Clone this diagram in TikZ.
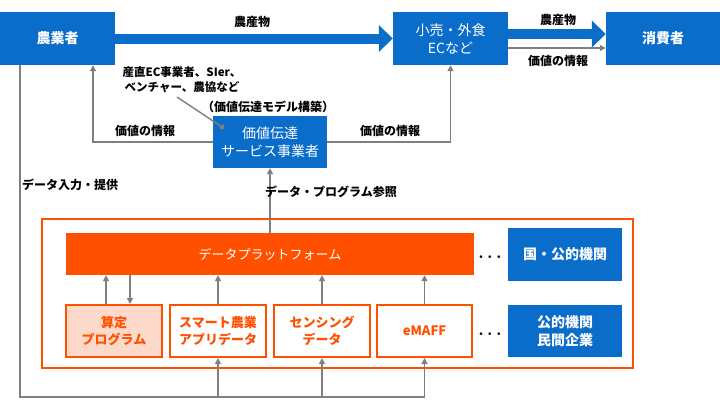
\documentclass[tikz,border=0pt]{standalone}
\usepackage{fontspec}
\setmainfont{Noto Sans CJK JP}
\usetikzlibrary{arrows.meta}

\definecolor{mblue}{HTML}{0A6DCA}
\definecolor{morange}{HTML}{FF5000}
\definecolor{msalmon}{HTML}{FCD9CA}
\definecolor{mgray}{HTML}{7F7F7F}

\tikzset{
  bluebox/.style={fill=mblue, text=white, minimum width=115pt, minimum height=53pt,
    align=center, inner sep=0pt, font=\fontsize{14}{18}\selectfont\bfseries},
  orangebox/.style={draw=morange, line width=2pt, fill=white, text=morange,
    minimum width=96pt, minimum height=52pt, align=center, inner sep=0pt,
    font=\fontsize{13}{17}\selectfont\bfseries},
  fatarrow/.style={draw=mblue, line width=10pt, -{Triangle[length=14pt,width=26pt]}},
  info/.style={draw=mgray, line width=1.5pt, -{Triangle[length=6pt,width=6pt]}},
  infoline/.style={draw=mgray, line width=1.5pt},
  lbl/.style={font=\fontsize{12}{15}\selectfont\bfseries, inner sep=1pt, align=center},
  dotsnode/.style={font=\fontsize{17}{18}\selectfont\boldmath, inner sep=0pt},
}

\begin{document}
\begin{tikzpicture}[x=1pt,y=-1pt]
\useasboundingbox (0,0) rectangle (720,400);
% top row
\node[bluebox] (farmer) at (57.5,38.5) {農業者};
\node[bluebox] (retail) at (450.5,38.5) {\mdseries 小売・外食\\\mdseries ECなど};
\node[bluebox, minimum width=114pt] (consumer) at (663,38.5) {消費者};
\node[bluebox, minimum width=114pt, minimum height=52pt] (service) at (270,142)
  {\mdseries 価値伝達\\\mdseries サービス事業者};
% orange frame
\draw[morange, line width=2pt] (42,219) rectangle (633,368);
\node[fill=morange, text=white, minimum width=408pt, minimum height=42pt,
  font=\fontsize{13}{16}\selectfont] (platform) at (270,254) {データプラットフォーム};
\node[bluebox, minimum width=114pt] (gov) at (565,254.5) {国・公的機関};
\node[bluebox, minimum width=114pt, minimum height=52pt] (public) at (565,331)
  {公的機関\\民間企業};
\node[orangebox, fill=msalmon] (calc) at (114,331) {算定\\プログラム};
\node[orangebox] (smart) at (218,331) {スマート農業\\アプリデータ};
\node[orangebox] (sensing) at (322,331) {センシング\\データ};
\node[orangebox, minimum width=95pt] (emaff) at (424.5,331) {eMAFF};
\node[dotsnode] (dots1) at (490,257) {$\cdots$};
\node[dotsnode] (dots2) at (490,334) {$\cdots$};

% goods flow
\draw[fatarrow] (farmer.east) -- (retail.west);
\draw[fatarrow] ([yshift=4.5pt]retail.east) -- ([yshift=4.5pt]consumer.west);
\draw[info] ([yshift=-9.5pt]retail.east) -- ([yshift=-9.5pt]consumer.west);
\node[lbl] (goods1) at (252,22) {農産物};
\node[lbl] (goods2) at (558,20) {農産物};
\node[lbl] (value1) at (558,61) {価値の情報};

% value info back to farmer and retail
\coordinate (fu) at ([xshift=35.5pt]farmer.south);
\draw[info] (service.west) -| (fu);
\draw[info] (service.east) -| (retail.south);
\node[lbl] (value2) at (145,131) {価値の情報};
\node[lbl] (value3) at (390,131) {価値の情報};
\node[lbl] (model) at (268,107) {（価値伝達モデル構築）};
\node[lbl, font=\fontsize{11.5}{15}\selectfont\bfseries] (note) at (182,80)
  {産直EC事業者、SIer、\\ベンチャー、農協など};
\coordinate (pin) at (222,127);
\draw[infoline] (177,97) -- (pin);
\fill[mgray] (pin) circle (2.5pt);

% data reference
\draw[info, {Triangle[length=6pt,width=6pt]}-] (service.south) -- (platform.north);
\node[lbl] (dataref) at (331,192) {データ・プログラム参照};

% data input line
\coordinate (fd) at ([xshift=-37.5pt]farmer.south);
\coordinate (base) at (424.5,397);
\draw[infoline] (fd) |- (base);
\node[lbl] (datain) at (70,185) {データ入力・提供};
\draw[info] (smart.south |- base) -- (smart.south);
\draw[info] (sensing.south |- base) -- (sensing.south);
\draw[info] (base) -- (emaff.south);

% links to the platform
\coordinate (cu) at ([xshift=-8pt]calc.north);
\coordinate (cd) at ([xshift=16pt]calc.north);
\draw[info] (cu) -- (cu |- platform.south);
\draw[info] (cd |- platform.south) -- (cd);
\draw[info] (smart.north) -- (smart.north |- platform.south);
\draw[info] (sensing.north) -- (sensing.north |- platform.south);
\draw[info] (emaff.north) -- (emaff.north |- platform.south);
\end{tikzpicture}
\end{document}
